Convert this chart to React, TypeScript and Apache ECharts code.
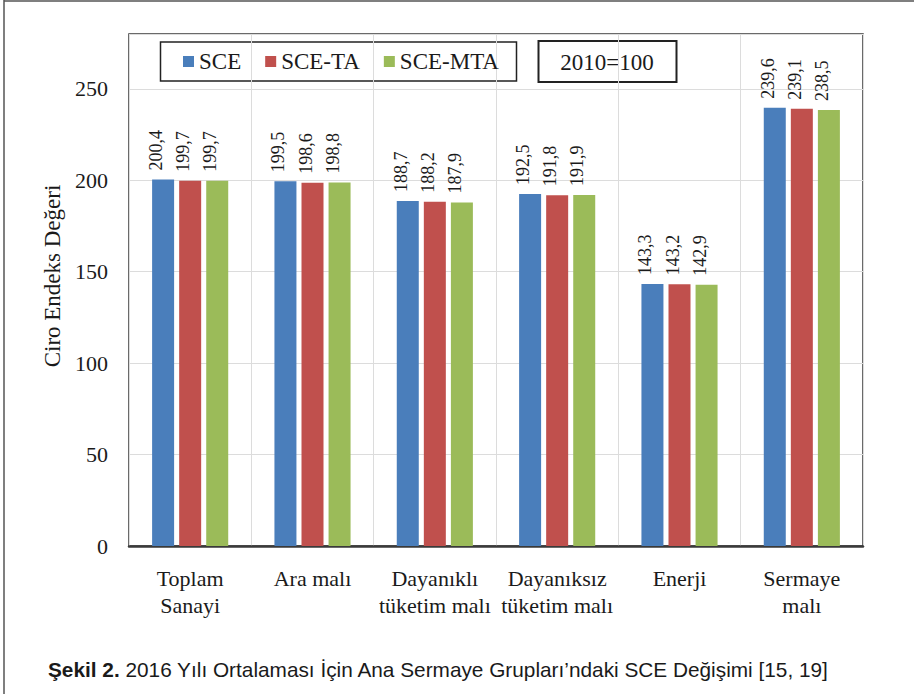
import React, { useEffect, useRef } from "react";
import * as echarts from "echarts";

const categories = [
  "Toplam\nSanayi",
  "Ara malı",
  "Dayanıklı\ntüketim malı",
  "Dayanıksız\ntüketim malı",
  "Enerji",
  "Sermaye\nmalı",
];
const seriesNames = ["SCE", "SCE-TA", "SCE-MTA"];
const sce = [200.4, 199.5, 188.7, 192.5, 143.3, 239.6];
const sceTA = [199.7, 198.6, 188.2, 191.8, 143.2, 239.1];
const sceMTA = [199.7, 198.8, 187.9, 191.9, 142.9, 238.5];
const colors = ["#4A7EBB", "#C0504D", "#9BBB59"];
const yTicks = { min: 0, max: 280, interval: 50 };
const baseNote = "2010=100";
const yName = "Ciro Endeks Değeri";
const captionBold = "Şekil 2.";
const captionRest = " 2016 Yılı Ortalaması İçin Ana Sermaye Grupları’ndaki SCE Değişimi [15, 19]";

const SERIF = "Liberation Serif";
const SANS = "Liberation Sans";

export default function App() {
  const ref = useRef<HTMLDivElement>(null);
  useEffect(() => {
    if (!ref.current) return;
    const chart = echarts.init(ref.current, undefined, { renderer: "svg" });
    const data = [sce, sceTA, sceMTA];
    chart.setOption({
      animation: false,
      backgroundColor: "#ffffff",
      textStyle: { fontFamily: SERIF },
      grid: {
        left: 129,
        right: 51,
        top: 34,
        bottom: 148,
        show: true,
        borderColor: "#3a3a3a",
        borderWidth: 1.5,
        containLabel: false,
      },
      legend: {
        left: 183,
        top: 50,
        padding: 0,
        itemWidth: 11,
        itemHeight: 11,
        itemGap: 24,
        icon: "rect",
        data: seriesNames,
        textStyle: { fontFamily: SERIF, fontSize: 23, color: "#1a1a1a", lineHeight: 23 },
      },
      xAxis: {
        type: "category",
        data: categories,
        axisTick: { show: false },
        axisLine: { show: true, lineStyle: { color: "#3a3a3a", width: 2.5 } },
        splitLine: { show: true, lineStyle: { color: "#dcdcdc", width: 1 } },
        axisLabel: {
          interval: 0,
          margin: 19,
          fontFamily: SERIF,
          fontSize: 22,
          lineHeight: 27,
          color: "#1a1a1a",
        },
      },
      yAxis: {
        type: "value",
        min: yTicks.min,
        max: yTicks.max,
        interval: yTicks.interval,
        name: yName,
        nameLocation: "middle",
        nameRotate: 90,
        nameGap: 61,
        nameTextStyle: {
          fontFamily: SERIF,
          fontSize: 23,
          color: "#1a1a1a",
          padding: [0, 0, 0, 28],
        },
        axisLine: { show: false },
        axisTick: { show: false },
        splitLine: { show: true, lineStyle: { color: "#dcdcdc", width: 1.2 } },
        axisLabel: {
          margin: 21,
          fontFamily: SERIF,
          fontSize: 22,
          color: "#1a1a1a",
          formatter: (v: number) => (v === yTicks.max ? "" : String(v)),
        },
      },
      series: data.map((d, i) => ({
        name: seriesNames[i],
        type: "bar",
        data: d,
        barWidth: 22,
        barGap: "23%",
        itemStyle: { color: colors[i] },
        label: {
          show: true,
          position: "top",
          rotate: 90,
          align: "left",
          verticalAlign: "bottom",
          lineHeight: 14,
          distance: 9,
          fontFamily: SERIF,
          fontSize: 18,
          color: "#1a1a1a",
          formatter: (p: any) => Number(p.value).toFixed(1).replace(".", ","),
        },
      })),
      graphic: [
        {
          type: "line",
          shape: { x1: 4, y1: 0, x2: 4, y2: 694 },
          style: { stroke: "#555", lineWidth: 1.5 },
        },
        {
          type: "line",
          shape: { x1: 4, y1: 1, x2: 914, y2: 1 },
          style: { stroke: "#555", lineWidth: 1.5 },
        },
        {
          type: "rect",
          shape: { x: 160.5, y: 42, width: 356, height: 39 },
          style: { fill: "none", stroke: "#222", lineWidth: 1.5 },
        },
        {
          type: "rect",
          shape: { x: 538.5, y: 41, width: 138, height: 41 },
          style: { fill: "none", stroke: "#222", lineWidth: 2 },
        },
        {
          type: "text",
          x: 607,
          y: 62,
          style: {
            text: baseNote,
            fontFamily: SERIF,
            fontSize: 23,
            fill: "#1a1a1a",
            align: "center",
            verticalAlign: "middle",
          },
        },
        {
          type: "text",
          x: 48,
          y: 669,
          style: {
            text: "{b|" + captionBold + "}{r|" + captionRest + "}",
            verticalAlign: "middle",
            rich: {
              b: { fontFamily: SANS, fontSize: 20.8, fontWeight: "bold", fill: "#1a1a1a" },
              r: { fontFamily: SANS, fontSize: 20.8, fill: "#1a1a1a" },
            },
          },
        },
      ],
    });
    return () => chart.dispose();
  }, []);
  return (
    <div
      ref={ref}
      style={{ position: "absolute", left: 0, top: 0, width: 914, height: 694 }}
    />
  );
}
